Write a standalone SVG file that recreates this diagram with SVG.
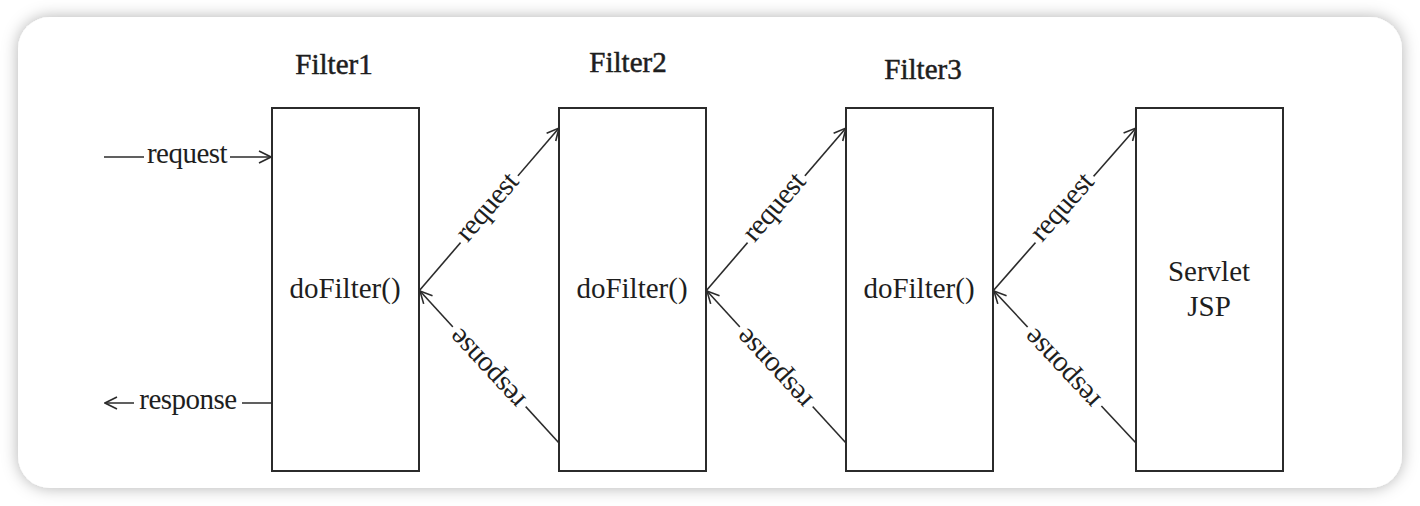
<svg xmlns="http://www.w3.org/2000/svg" width="1420" height="506" viewBox="0 0 1420 506">
<style>
.box{fill:#fff;stroke:#2b2b2b;stroke-width:2}
.ln{fill:none;stroke:#2b2b2b;stroke-width:1.6}
.t{font-family:"Liberation Serif","Times New Roman",serif;font-size:29px;fill:#1e1e1e;text-anchor:middle}
.h{font-family:"Liberation Serif","Times New Roman",serif;font-size:29px;fill:#1e1e1e;text-anchor:middle;stroke:#1e1e1e;stroke-width:0.5}
.lab{font-family:"Liberation Serif","Times New Roman",serif;font-size:29px;fill:#1e1e1e;text-anchor:middle;letter-spacing:-0.5px}
</style>
<defs>
<filter id="sh" x="-5%" y="-10%" width="110%" height="120%">
<feDropShadow dx="0" dy="0" stdDeviation="8" flood-color="#000" flood-opacity="0.3"/>
</filter>
<marker id="ah" viewBox="0 0 14 14" refX="13" refY="7" markerWidth="14" markerHeight="14" markerUnits="userSpaceOnUse" orient="auto">
<path d="M1,1 L13,7 L1,13" fill="none" stroke="#2b2b2b" stroke-width="1.6"/>
</marker>
</defs>
<rect x="0" y="0" width="1420" height="506" fill="#fff"/>
<rect x="18" y="17" width="1384" height="471" rx="32" ry="32" fill="#fff" filter="url(#sh)"/>

<g id="filter1">
<rect class="box" x="272" y="108" width="147" height="363"/>
<text class="h" x="334" y="74">Filter1</text>
<text class="t" x="345" y="298">doFilter()</text>
</g>
<g id="filter2">
<rect class="box" x="559" y="108" width="147" height="363"/>
<text class="h" x="628" y="72">Filter2</text>
<text class="t" x="632" y="298">doFilter()</text>
</g>
<g id="filter3">
<rect class="box" x="846" y="108" width="147" height="363"/>
<text class="h" x="923" y="79">Filter3</text>
<text class="t" x="919" y="298">doFilter()</text>
</g>
<g id="servlet">
<rect class="box" x="1136" y="108" width="147" height="363"/>
<text class="t" x="1209" y="281">Servlet</text>
<text class="t" x="1209" y="316">JSP</text>
</g>

<g id="connectors">
<line class="ln" x1="104" y1="157" x2="271" y2="157" marker-end="url(#ah)"/>
<rect x="144" y="145" width="86" height="24" fill="#fff"/>
<text class="lab" x="187" y="163">request</text>

<line class="ln" x1="272" y1="403" x2="105" y2="403" marker-end="url(#ah)"/>
<rect x="134" y="391" width="108" height="24" fill="#fff"/>
<text class="lab" x="188" y="409">response</text>

<line class="ln" x1="419" y1="291" x2="559" y2="128" marker-end="url(#ah)"/>
<line class="ln" x1="559" y1="443" x2="420" y2="291" marker-end="url(#ah)"/>
<line class="ln" x1="706" y1="291" x2="846" y2="128" marker-end="url(#ah)"/>
<line class="ln" x1="846" y1="443" x2="707" y2="291" marker-end="url(#ah)"/>
<line class="ln" x1="993" y1="291" x2="1136" y2="128" marker-end="url(#ah)"/>
<line class="ln" x1="1136" y1="443" x2="994" y2="291" marker-end="url(#ah)"/>

<g transform="translate(489,209) rotate(-49.3)"><rect x="-44" y="-12" width="88" height="24" fill="#fff"/><text class="lab" x="0" y="6">request</text></g>
<g transform="translate(776,209) rotate(-49.3)"><rect x="-44" y="-12" width="88" height="24" fill="#fff"/><text class="lab" x="0" y="6">request</text></g>
<g transform="translate(1064,209) rotate(-48.7)"><rect x="-44" y="-12" width="88" height="24" fill="#fff"/><text class="lab" x="0" y="6">request</text></g>

<g transform="translate(489,367) rotate(227.4)"><rect x="-54" y="-12" width="108" height="24" fill="#fff"/><text class="lab" x="0" y="6">response</text></g>
<g transform="translate(776,367) rotate(227.4)"><rect x="-54" y="-12" width="108" height="24" fill="#fff"/><text class="lab" x="0" y="6">response</text></g>
<g transform="translate(1064,367) rotate(227)"><rect x="-54" y="-12" width="108" height="24" fill="#fff"/><text class="lab" x="0" y="6">response</text></g>
</g>
</svg>
